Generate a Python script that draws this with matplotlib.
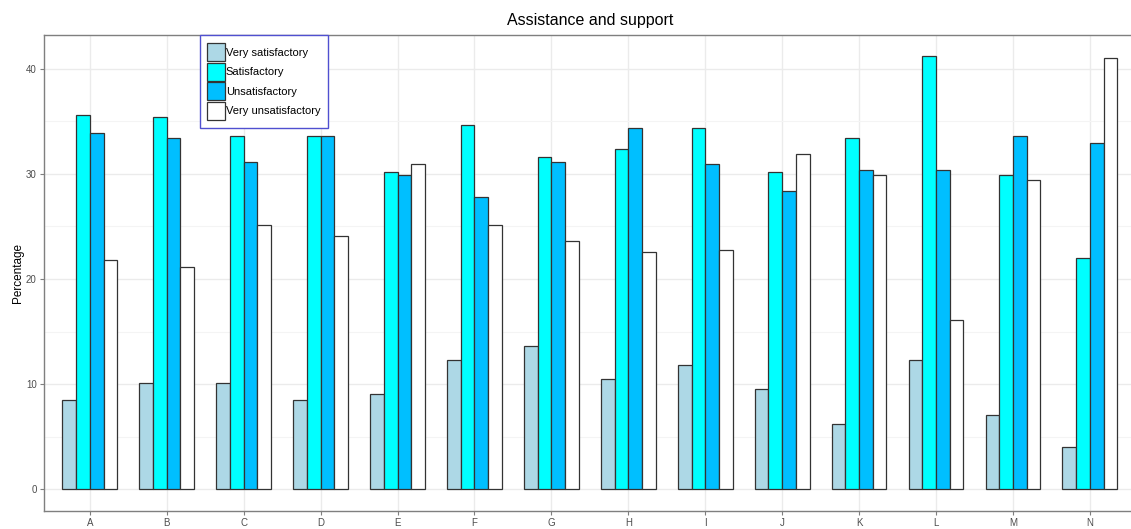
import numpy as np
import matplotlib
matplotlib.use("Agg")
import matplotlib.pyplot as plt
from matplotlib.ticker import MultipleLocator

plt.rcParams['font.family'] = ['Liberation Sans', 'DejaVu Sans']

categories = list("ABCDEFGHIJKLMN")
levels = ["Very satisfactory", "Satisfactory", "Unsatisfactory", "Very unsatisfactory"]
very_sat = [8.5, 10.1, 10.1, 8.5, 9.1, 12.3, 13.6, 10.5, 11.8, 9.5, 6.2, 12.3, 7.1, 4.0]
sat = [35.6, 35.4, 33.6, 33.6, 30.2, 34.7, 31.6, 32.4, 34.4, 30.2, 33.4, 41.2, 29.9, 22.0]
unsat = [33.9, 33.4, 31.1, 33.6, 29.9, 27.8, 31.1, 34.4, 30.9, 28.4, 30.4, 30.4, 33.6, 32.9]
very_unsat = [21.8, 21.1, 25.1, 24.1, 30.9, 25.1, 23.6, 22.6, 22.8, 31.9, 29.9, 16.1, 29.4, 41.0]
series = [very_sat, sat, unsat, very_unsat]
colors = ["#ADD8E6", "#00FFFF", "#00BFFF", "#FFFFFF"]

fig = plt.figure(figsize=(11.31, 5.29), dpi=100)
# panel runs slightly past the right edge of the image, as in the reference
ax = fig.add_axes([43.7 / 1131, 18 / 529, (1136 - 43.7) / 1131, (511 - 34.5) / 529])

x = np.arange(1, len(categories) + 1)
w = 0.178
for i, (vals, c, lab) in enumerate(zip(series, colors, levels)):
    ax.bar(x + (i - 1.5) * w, vals, width=w, color=c, edgecolor="#333333",
           linewidth=0.9, label=lab, zorder=3)

ax.set_xlim(0.4, 14.6)
ax.set_ylim(-2.06, 43.26)
ax.set_xticks(x)
ax.set_xticklabels(categories)
ax.yaxis.set_major_locator(MultipleLocator(10))
ax.yaxis.set_minor_locator(MultipleLocator(5))
ax.grid(which="major", color="#ebebeb", linewidth=1.0, zorder=0)
ax.grid(which="minor", axis="y", color="#f4f4f4", linewidth=0.8, zorder=0)
ax.set_axisbelow(True)

for s in ["left", "bottom", "top"]:
    ax.spines[s].set_color("#7f7f7f")
    ax.spines[s].set_linewidth(1.0)
ax.spines["right"].set_visible(False)
ax.tick_params(which="major", length=3, color="#7f7f7f", labelsize=7,
               labelcolor="#4d4d4d", pad=2)
ax.tick_params(which="minor", length=0)

ax.set_ylabel("Percentage", fontsize=8.5, labelpad=1.8)
ax.set_title("Assistance and support", fontsize=11.5, pad=7)

leg = ax.legend(loc="upper left", bbox_to_anchor=(156 / 1092.3, 0.998),
                fontsize=8, frameon=True, fancybox=False,
                handlelength=1.6, handleheight=2.1, handletextpad=0.05,
                labelspacing=0.15, borderpad=0.7, borderaxespad=0)
leg.get_frame().set_edgecolor("#5050d0")
leg.get_frame().set_linewidth(1.0)
leg.get_frame().set_alpha(1)

fig.savefig("out.png", dpi=100)
